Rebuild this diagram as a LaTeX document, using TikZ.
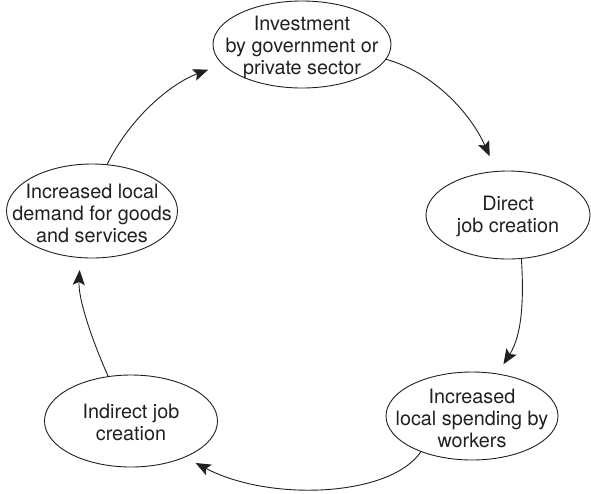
\documentclass[tikz,border=0pt]{standalone}
\usepackage{fontspec}
\setmainfont{TeX Gyre Heros}
\usetikzlibrary{shapes.geometric,arrows.meta}
\definecolor{ink}{HTML}{231F20}
\begin{document}
\begin{tikzpicture}[x=1pt,y=-1pt,
  ell/.style={ellipse,draw=ink,line width=0.9pt,inner sep=0pt},
  txt/.style={align=center,inner sep=0pt,text=ink,font=\fontsize{19.8}{22}\selectfont},
  conn/.style={draw=ink,line width=0.9pt,-{Stealth[length=15pt,width=12pt,inset=3pt]}}]
\useasboundingbox (0,0) rectangle (591,493);
% nodes
\node[ell,minimum width=178pt,minimum height=87pt] (n1) at (302,44.5) {};
\node[txt] (n1t) at (302,47) {Investment\\by government or\\private sector};
\node[ell,minimum width=164pt,minimum height=88pt] (n2) at (508,215) {};
\node[txt] (n2t) at (508,216) {Direct\\job creation};
\node[ell,minimum width=172pt,minimum height=88pt] (n3) at (472,416) {};
\node[txt] (n3t) at (472,418) {Increased\\local spending by\\workers};
\node[ell,minimum width=173pt,minimum height=92pt] (n4) at (131,421) {};
\node[txt] (n4t) at (131,422) {Indirect job\\creation};
\node[ell,minimum width=171pt,minimum height=94pt] (n5) at (92,211) {};
\node[txt] (n5t) at (92,213) {Increased local\\demand for goods\\and services};
% connectors
\draw[conn,shorten >=16pt] (n1.-10) .. controls (432,72) and (470,112) .. (n2.105);
\draw[conn,shorten >=11pt] (n2.-73) .. controls (524,300) and (522,335) .. (n3.59);
\draw[conn,shorten >=12pt] (n3.-145) .. controls (390,497) and (270,502) .. (n4.-34);
\draw[conn,shorten >=12pt] (n4.117) .. controls (94,345) and (78,300) .. (n5.-104);
\draw[conn,shorten >=15pt] (n5.72) .. controls (130,118) and (170,84) .. (n1.194);
\end{tikzpicture}
\end{document}
